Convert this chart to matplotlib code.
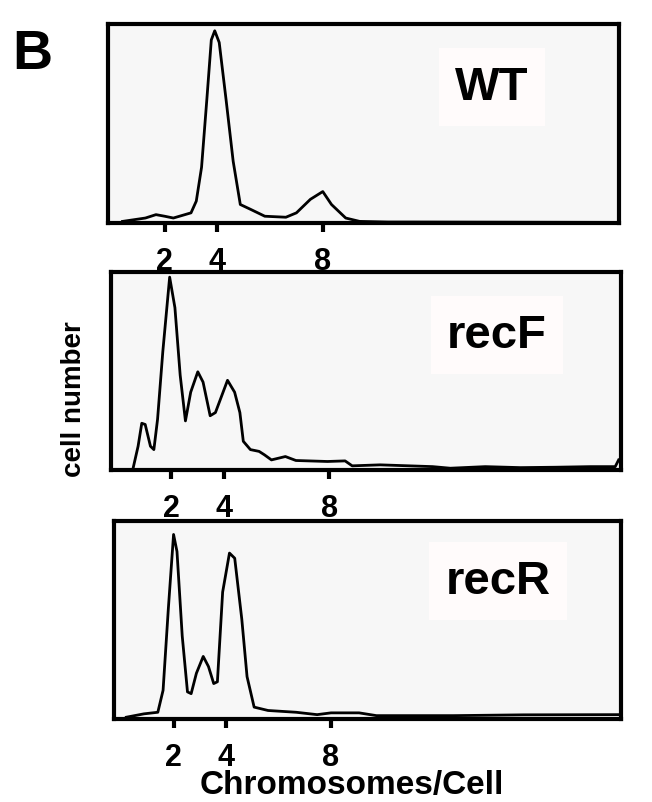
import numpy as np
from matplotlib import pyplot as plt

plt.rcParams['font.family'] = ['Liberation Sans', 'DejaVu Sans']
plt.rcParams['font.weight'] = 'bold'

# chromosome count positions (x) and cell number in % of panel height (y)
wt_x = [0.4, 1.27, 1.67, 2.0, 2.33, 3.0, 3.2, 3.4, 3.6, 3.77, 3.9, 4.07, 4.33, 4.6, 4.87,
        5.27, 5.8, 6.6, 7.0, 7.53, 8.0, 8.33, 8.87, 9.4, 10.47, 11.4, 19.2]
wt_y = [0.8, 2.5, 4.2, 3.4, 2.5, 5.1, 11, 28, 62, 92, 96.6, 90.7, 62, 31, 9.3,
        6.8, 3.4, 2.9, 5.1, 11.9, 15.8, 9.3, 2.5, 0.8, 0.5, 0.5, 0.3]

recf_x = [0.53, 0.73, 0.87, 1.0, 1.2, 1.33, 1.47, 1.67, 1.93, 2.13, 2.33, 2.53, 2.73, 3.0,
          3.2, 3.47, 3.67, 4.13, 4.4, 4.6, 4.73, 5.0, 5.33, 5.53, 5.8, 6.33, 6.73, 7.93,
          8.6, 8.87, 9.93, 11.93, 12.6, 13.93, 15.27, 16.6, 17.93, 18.87, 19.0]
recf_y = [0.3, 12, 23.6, 23, 12, 10.3, 25.6, 59.8, 97.4, 82, 47.9, 24.8, 39.3, 49.6,
          44.4, 27.4, 29, 45.3, 39.3, 29, 14.5, 10.3, 9.4, 7.7, 5.1, 6.8, 4.8, 4.3,
          4.6, 2.1, 2.6, 1.7, 0.9, 1.7, 1.2, 1.4, 1.7, 1.7, 5.1]

recr_x = [0.2, 0.87, 1.4, 1.6, 1.8, 2.0, 2.13, 2.33, 2.53, 2.67, 2.87, 3.13, 3.33, 3.53,
          3.67, 3.87, 4.13, 4.33, 4.6, 4.8, 5.07, 5.6, 6.67, 7.47, 8.0, 9.07, 9.73,
          12.67, 15.33, 19.07]
recr_y = [0.9, 2.6, 3.4, 14.5, 55.6, 93.2, 84.6, 41.9, 13.7, 12.8, 23.1, 31.6, 26.5, 17.9,
          18.8, 64.1, 83.8, 81.2, 50.4, 21.4, 6, 4.3, 3.4, 2.2, 3.1, 3.1, 1.7,
          1.7, 2.1, 2.2]

names = ['WT', 'recF', 'recR']
tick_vals = [2, 4, 8]
tick_labels = ['2', '4', '8']

W, H = 652, 803
fig = plt.figure(figsize=(W/100, H/100), dpi=100)

# panel boxes in pixels: left, right, top, bottom ; x-limits
boxes = [(108, 619, 25, 224), (111, 621, 273, 471), (114, 621, 522, 720)]
xlims = [(-0.15, 19.24), (-0.3, 19.09), (-0.27, 19.05)]
label_pos = [(492, 88), (497, 336), (498, 582)]
data = [(wt_x, wt_y), (recf_x, recf_y), (recr_x, recr_y)]

for i in range(3):
    l, r, t, b = boxes[i]
    ax = fig.add_axes([l/W, 1-b/H, (r-l)/W, (b-t)/H])
    ax.set_facecolor('#f7f7f7')
    ax.plot(data[i][0], data[i][1], color='black', lw=2.0)
    ax.set_xlim(*xlims[i])
    ax.set_ylim(0, 100)
    ax.set_yticks([])
    ax.set_xticks(tick_vals)
    ax.set_xticklabels(tick_labels, fontsize=22, fontweight='bold')
    ax.tick_params(axis='x', direction='out', length=6.5, width=3, pad=10)
    for s in ax.spines.values():
        s.set_linewidth(3)
    lx, ly = label_pos[i]
    fig.text(lx/W, 1-ly/H, names[i], fontsize=34, fontweight='bold',
             ha='center', va='center',
             bbox=dict(facecolor='#fffbfb', edgecolor='none', pad=12))

fig.text(32/W, 1-55/H, 'B', fontsize=40, fontweight='bold', ha='center', va='center')
fig.text(74/W, 1-399/H, 'cell number', fontsize=20, fontweight='bold',
         rotation=90, ha='center', va='center')
fig.text(352/W, 1-786/H, 'Chromosomes/Cell', fontsize=24, fontweight='bold',
         ha='center', va='center')

plt.savefig('out.png', dpi=100)
